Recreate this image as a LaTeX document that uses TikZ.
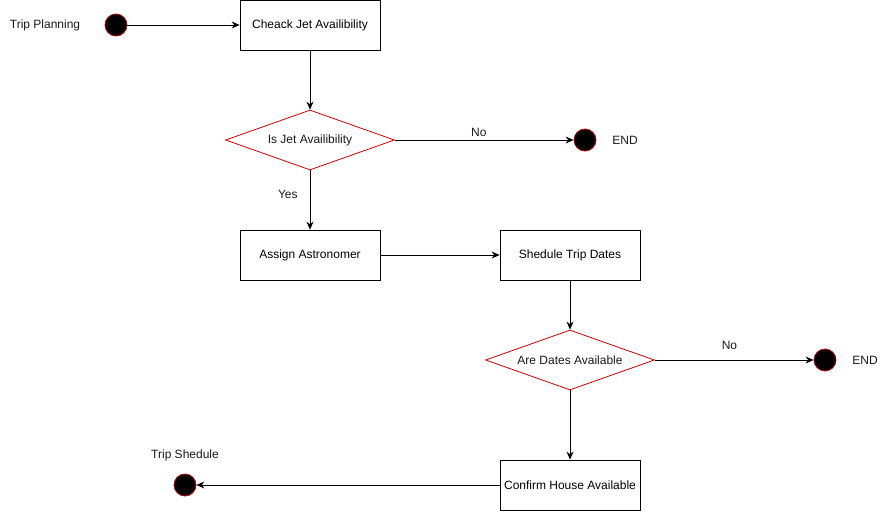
\documentclass[tikz,border=0pt]{standalone}
\usepackage{fontspec}
\setmainfont{Liberation Sans}
\usetikzlibrary{shapes.geometric,arrows.meta}
\begin{document}
\begin{tikzpicture}[x=1pt,y=-1pt,
  every node/.style={font=\fontsize{12}{14}\selectfont, inner sep=0pt},
  stepbox/.style={draw=black, line width=0.8pt, minimum width=140pt, minimum height=50pt},
  decide/.style={diamond, draw=red!80!black, line width=0.8pt, aspect=2.8, minimum width=169pt, minimum height=60pt},
  dot/.style={circle, fill=black, draw=red!70!black, line width=0.8pt, minimum size=22pt},
  flow/.style={draw=black, line width=0.8pt, -{Stealth[length=8pt,width=7pt]}},
  lbl/.style={text=black!90}]
\useasboundingbox (0,0) rectangle (890,511);

% start of the trip planning flow
\node[lbl] (tp) at (45,25) {Trip Planning};
\node[dot] (start) at (116,25) {};
\node[stepbox] (jet) at (310,25) {Cheack Jet Availibility};
\node[decide] (isjet) at (310,140) {};
\node[lbl] at (310,140) {Is Jet Availibility};
\node[dot] (end1) at (585,140) {};
\node[lbl] (endt1) at (625,140) {END};
\node[stepbox] (astro) at (310,255) {Assign Astronomer};
\node[stepbox] (dates) at (570,255) {Shedule Trip Dates};
\node[decide] (avail) at (570,360) {};
\node[lbl] at (570,360) {Are Dates Available};
\node[dot] (end2) at (825,360) {};
\node[lbl] (endt2) at (865,360) {END};
\node[stepbox] (house) at (570,485) {Confirm House Available};
\node[dot] (fin) at (185,485) {};
\node[lbl] (ts) at (185,455) {Trip Shedule};

% connectors
\draw[flow] (start) -- (jet);
\draw[flow] (jet) -- (isjet);
\draw[flow] (isjet.east) -- node[lbl, above=3pt, pos=0.47] {No} (end1);
\draw[flow] (isjet.south) -- node[lbl, left=12pt, pos=0.4] {Yes} (astro);
\draw[flow] (astro) -- (dates);
\draw[flow] (dates) -- (avail);
\draw[flow] (avail.east) -- node[lbl, above=10pt, pos=0.47] {No} (end2);
\draw[flow] (avail.south) -- (house);
\draw[flow] (house) -- (fin);
\end{tikzpicture}
\end{document}
